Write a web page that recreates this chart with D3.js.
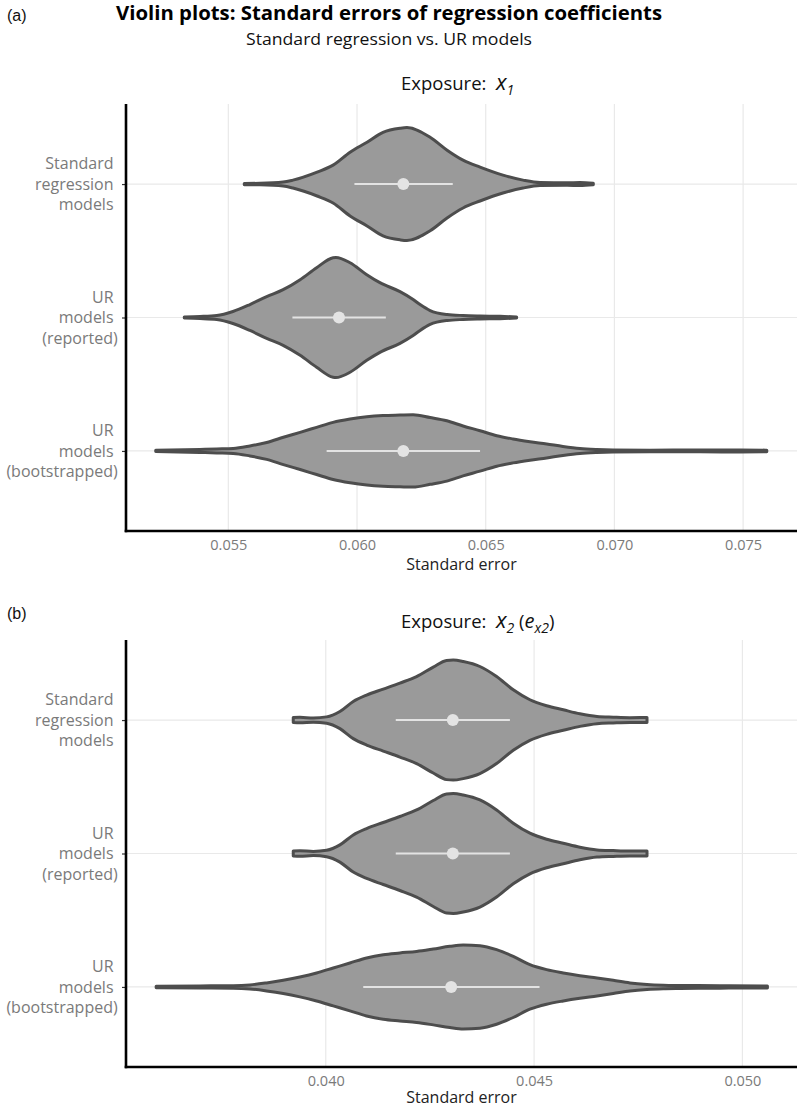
<!DOCTYPE html>
<html>
<head>
<meta charset="utf-8">
<script src="https://cdn.jsdelivr.net/npm/d3@7"></script>
<style>
  html, body { margin: 0; padding: 0; background: #fff; }
  svg { display: block; }
  text { font-family: "Open Sans", "Noto Sans", sans-serif; }
  .ylab { white-space: pre; }
</style>
</head>
<body>
<svg id="chart" width="800" height="1109"></svg>
<script>
// ---------------- DATA ----------------
const categories = ["Standard regression models", "UR models (reported)", "UR models (bootstrapped)"];
const categoryLines = [["Standard ", "regression ", "models "], ["UR ", "models ", "(reported)"], ["UR ", "models ", "(bootstrapped)"]];

// Panel (a) x1: axis limits and ticks
const xLimitsA = [0.051025, 0.077094];
const xTicksA = [0.055, 0.060, 0.065, 0.070, 0.075];
// Panel (b) x2: axis limits and ticks
const xLimitsB = [0.035206, 0.05131];
const xTicksB = [0.040, 0.045, 0.050];

// Violin density profiles (standard error grid, relative half-width)
const seA_std  = [0.05562,0.05623,0.05713,0.05751,0.05845,0.05907,0.05973,0.06039,0.06101,0.06167,0.06194,0.06284,0.06350,0.06412,0.06478,0.06567,0.06645,0.06711,0.06816,0.06866,0.06918];
const densA_std = [0.01,0.013,0.033,0.066,0.199,0.315,0.531,0.697,0.862,0.929,0.94,0.779,0.564,0.398,0.282,0.149,0.066,0.025,0.02,0.025,0.013];

const seA_rep  = [0.05329,0.05390,0.05455,0.05518,0.05584,0.05649,0.05713,0.05779,0.05843,0.05907,0.05918,0.05973,0.06038,0.06089,0.06167,0.06218,0.06245,0.06284,0.06350,0.06412,0.06478,0.06556,0.06620];
const densA_rep = [0.01,0.017,0.033,0.1,0.216,0.348,0.464,0.63,0.829,0.995,1.0,0.912,0.713,0.58,0.43,0.3,0.216,0.116,0.05,0.033,0.025,0.02,0.01];

const seA_boot = [0.05218,0.05390,0.05455,0.05519,0.05584,0.05649,0.05714,0.05779,0.05843,0.05907,0.05973,0.06038,0.06101,0.06167,0.06218,0.06284,0.06349,0.06412,0.06478,0.06543,0.06606,0.06672,0.06737,0.06800,0.06866,0.06931,0.06995,0.07138,0.07333,0.07488,0.07592];
const densA_boot = [0.01,0.025,0.033,0.041,0.083,0.141,0.227,0.31,0.393,0.476,0.531,0.569,0.589,0.597,0.602,0.556,0.502,0.415,0.337,0.254,0.199,0.154,0.116,0.075,0.041,0.025,0.017,0.013,0.015,0.017,0.013];

const seB_std  = [0.03922,0.03938,0.03970,0.04002,0.04034,0.04066,0.04098,0.04138,0.04178,0.04218,0.04258,0.04290,0.04306,0.04330,0.04370,0.04410,0.04450,0.04490,0.04530,0.04570,0.04610,0.04651,0.04690,0.04730,0.04771];
const densB_std = [0.042,0.045,0.035,0.053,0.143,0.309,0.416,0.516,0.616,0.725,0.882,0.992,1.0,0.975,0.892,0.725,0.504,0.338,0.238,0.171,0.105,0.06,0.048,0.04,0.042];

const seB_rep  = [0.03922,0.03938,0.03970,0.04002,0.04034,0.04066,0.04098,0.04138,0.04178,0.04218,0.04258,0.04290,0.04306,0.04330,0.04370,0.04410,0.04450,0.04490,0.04530,0.04570,0.04610,0.04651,0.04690,0.04730,0.04771];
const densB_rep = [0.042,0.045,0.035,0.053,0.143,0.309,0.416,0.516,0.616,0.725,0.882,0.992,1.0,0.975,0.892,0.725,0.504,0.338,0.238,0.171,0.105,0.06,0.048,0.04,0.042];

const seB_boot = [0.03593,0.03698,0.03778,0.03818,0.03858,0.03898,0.03938,0.03978,0.04018,0.04058,0.04098,0.04138,0.04178,0.04218,0.04258,0.04298,0.04330,0.04370,0.04410,0.04450,0.04490,0.04530,0.04570,0.04610,0.04651,0.04690,0.04730,0.04771,0.04810,0.04850,0.04946,0.05060];
const densB_boot = [0.013,0.017,0.02,0.033,0.067,0.11,0.166,0.233,0.316,0.399,0.483,0.537,0.566,0.592,0.632,0.676,0.699,0.687,0.621,0.509,0.371,0.288,0.233,0.188,0.15,0.11,0.067,0.042,0.03,0.025,0.02,0.017];

// Median and interval (point + line)
const medianA = [0.0618, 0.0593, 0.0618];
const lowerA  = [0.0599, 0.05749, 0.05882];
const upperA  = [0.06372, 0.06112, 0.06478];
const medianB = [0.04305, 0.04305, 0.04301];
const lowerB  = [0.04168, 0.04168, 0.04090];
const upperB  = [0.04442, 0.04442, 0.04513];

// ---------------- DRAW ----------------
const svg = d3.select("#chart");
svg.append("rect").attr("width", 800).attr("height", 1109).attr("fill", "#fff");

const FILL = "#9a9a9a", STROKE = "#4d4d4d", PT = "#e3e3e3", GRID = "#e9e9e9";

function fitText(sel, target) {
  const w = sel.node().getComputedTextLength();
  if (Math.abs(w - target) / target > 0.02) sel.attr("textLength", target).attr("lengthAdjust", "spacingAndGlyphs");
}

// Titles
svg.append("text").attr("x", 7).attr("y", 21).style("font-family", "'Liberation Sans', Arial, sans-serif")
  .attr("font-size", 16).attr("fill", "#111").text("(a)");
svg.append("text").attr("x", 7).attr("y", 618.5).style("font-family", "'Liberation Sans', Arial, sans-serif")
  .attr("font-size", 16).attr("fill", "#111").text("(b)");

const t1 = svg.append("text").attr("x", 116).attr("y", 20).attr("font-size", 19.5).attr("font-weight", "bold")
  .attr("fill", "#000").text("Violin plots: Standard errors of regression coefficients");
fitText(t1, 546);
const t2 = svg.append("text").attr("x", 246).attr("y", 44.5).attr("font-size", 16.5)
  .attr("fill", "#111").text("Standard regression vs. UR models");
fitText(t2, 286);

function panel(opts) {
  const { top, bottom, left, right, limits, ticks, profiles, med, lo, hi, titleY, subs, axisTitleY } = opts;
  const x = d3.scaleLinear().domain(limits).range([left, right]);
  const y = d3.scalePoint().domain(categories).range([top, bottom]).padding(0.6);
  const step = y.step();
  const w = d3.scaleLinear().domain([0, 1]).range([0, 0.45 * step]);
  const g = svg.append("g");

  // panel title
  const tt = g.append("text").attr("x", 401).attr("y", titleY).attr("fill", "#111").attr("font-size", 18.5);
  tt.append("tspan").style("white-space", "pre").text("Exposure:  ");
  subs(tt);

  // gridlines
  g.append("g").selectAll("line").data(ticks).join("line")
    .attr("x1", d => x(d)).attr("x2", d => x(d)).attr("y1", top).attr("y2", bottom)
    .attr("stroke", GRID).attr("stroke-width", 1.2);
  g.append("g").selectAll("line").data(categories).join("line")
    .attr("x1", left).attr("x2", right).attr("y1", d => y(d)).attr("y2", d => y(d))
    .attr("stroke", GRID).attr("stroke-width", 1.2);

  // violins
  profiles.forEach((p, i) => {
    const cy = y(categories[i]);
    const pts = p.se.map((v, j) => ({ v, d: p.dens[j] }));
    const area = d3.area().x(d => x(d.v)).y0(d => cy - w(d.d)).y1(d => cy + w(d.d)).curve(d3.curveMonotoneX);
    g.append("path").attr("d", area(pts)).attr("fill", FILL).attr("stroke", STROKE)
      .attr("stroke-width", 3).attr("stroke-linejoin", "round");
    g.append("line").attr("x1", x(lo[i])).attr("x2", x(hi[i])).attr("y1", cy).attr("y2", cy)
      .attr("stroke", PT).attr("stroke-width", 2);
    g.append("circle").attr("cx", x(med[i])).attr("cy", cy).attr("r", 6).attr("fill", PT);
  });

  // x axis
  const xa = g.append("g").attr("transform", `translate(0,${bottom})`)
    .call(d3.axisBottom(x).tickValues(ticks).tickFormat(d3.format(".3f")).tickSize(0).tickPadding(0));
  xa.select(".domain").remove();
  xa.selectAll("text").attr("font-size", 14.5).attr("fill", "#7a7a7a").attr("dy", null).attr("y", 19)
    .style("font-family", "'Open Sans', sans-serif");
  // y axis
  const ya = g.append("g").attr("transform", `translate(${left},0)`)
    .call(d3.axisLeft(y).tickSize(4).tickFormat(""));
  ya.select(".domain").remove();
  ya.selectAll(".tick line").attr("stroke", "#333").attr("stroke-width", 1.2);
  categories.forEach((c, i) => {
    const t = g.append("text").attr("class", "ylab").attr("text-anchor", "end").attr("font-size", 16)
      .attr("fill", "#7a7a7a");
    categoryLines[i].forEach((ln, k) => {
      t.append("tspan").attr("x", left - 8.3).attr("y", y(c) + (k - 1) * 20.5).attr("dy", "0.35em").text(ln);
    });
  });

  // axis lines
  g.append("line").attr("x1", left).attr("x2", left).attr("y1", top).attr("y2", bottom + 1.3)
    .attr("stroke", "#000").attr("stroke-width", 2.6);
  g.append("line").attr("x1", left - 1.3).attr("x2", right).attr("y1", bottom).attr("y2", bottom)
    .attr("stroke", "#000").attr("stroke-width", 2.6);

  // axis title
  g.append("text").attr("x", (left + right) / 2).attr("y", axisTitleY).attr("text-anchor", "middle")
    .attr("font-size", 16).attr("fill", "#222").text("Standard error");
}

panel({
  top: 104, bottom: 531, left: 126, right: 797, limits: xLimitsA, ticks: xTicksA,
  profiles: [{ se: seA_std, dens: densA_std }, { se: seA_rep, dens: densA_rep }, { se: seA_boot, dens: densA_boot }],
  med: medianA, lo: lowerA, hi: upperA, titleY: 90, axisTitleY: 570,
  subs: tt => {
    tt.append("tspan").attr("font-style", "italic").attr("font-size", 22).text("x");
    tt.append("tspan").attr("font-style", "italic").attr("font-size", 14).attr("dy", 5).text("1");
  }
});

panel({
  top: 640, bottom: 1067, left: 126, right: 797, limits: xLimitsB, ticks: xTicksB,
  profiles: [{ se: seB_std, dens: densB_std }, { se: seB_rep, dens: densB_rep }, { se: seB_boot, dens: densB_boot }],
  med: medianB, lo: lowerB, hi: upperB, titleY: 628.3, axisTitleY: 1103,
  subs: tt => {
    tt.append("tspan").attr("font-style", "italic").attr("font-size", 22).text("x");
    tt.append("tspan").attr("font-style", "italic").attr("font-size", 14).attr("dy", 5).text("2");
    tt.append("tspan").attr("dy", -5).style("white-space", "pre").text(" (");
    tt.append("tspan").attr("font-style", "italic").attr("font-size", 20).text("e");
    tt.append("tspan").attr("font-style", "italic").attr("font-size", 14).attr("dy", 5).text("x2");
    tt.append("tspan").attr("dy", -5).text(")");
  }
});
</script>
</body>
</html>
